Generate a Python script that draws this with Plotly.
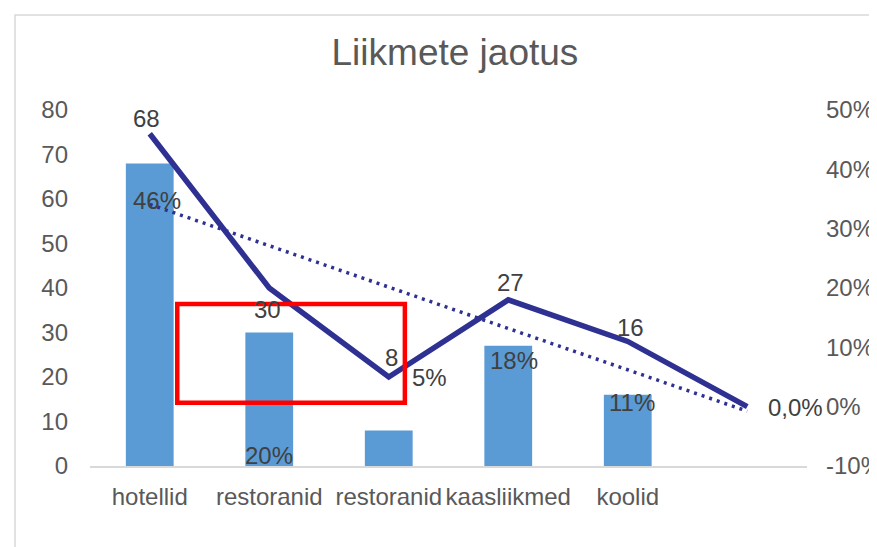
import numpy as np
import plotly.graph_objects as go

# data
categories = ["hotellid", "restoranid", "restoranid", "kaasliikmed", "koolid", ""]
counts = [68, 30, 8, 27, 16]
shares = [0.46, 0.20, 0.05, 0.18, 0.11, 0.0]
count_labels = ["68", "30", "8", "27", "16"]
share_labels = ["46%", "20%", "5%", "18%", "11%", "0,0%"]
pct_ticks = [-0.1, 0.0, 0.1, 0.2, 0.3, 0.4, 0.5]
pct_ticktext = ["-10%", "0%", "10%", "20%", "30%", "40%", "50%"]

# label offsets in px relative to the line points (moved by hand in the original)
count_offsets = [(-3, 15), (-2, -21), (3, 20), (2, 17), (3, 14)]
share_offsets = [(7, -67), (0, -167), (41, 0), (6, -61), (4, -61), (48, -1)]

pos = list(range(len(categories)))
bar_pos = pos[:len(counts)]

# linear trend of the share series, like Excel's trendline
slope, icpt = np.polyfit(pos, shares, 1)
trend = [icpt + slope * p for p in pos]

LINE = "#2E3192"
TXT = "#595959"
LBL = "#404040"
FONT = "Liberation Sans, Arial, sans-serif"
OFF = 8  # page body margin of the browser

fig = go.Figure()
fig.add_trace(go.Bar(x=bar_pos, y=counts, width=0.4, marker_color="#5B9BD5",
                     marker_line_width=0, showlegend=False))
fig.add_trace(go.Scatter(x=pos, y=shares, yaxis="y2", mode="lines",
                         line=dict(color=LINE, width=5.5), showlegend=False))
fig.add_trace(go.Scatter(x=pos, y=trend, yaxis="y2", mode="lines",
                         line=dict(color=LINE, width=3.5, dash="3px,5px"), showlegend=False))

annots = []
for i, t in enumerate(count_labels):
    dx, dy = count_offsets[i]
    annots.append(dict(x=pos[i], y=shares[i], xref="x", yref="y2", text=t, showarrow=False,
                       xshift=dx, yshift=dy, font=dict(size=24, color=LBL, family=FONT)))
for i, t in enumerate(share_labels):
    dx, dy = share_offsets[i]
    annots.append(dict(x=pos[i], y=shares[i], xref="x", yref="y2", text=t, showarrow=False,
                       xshift=dx, yshift=dy, font=dict(size=24, color=LBL, family=FONT)))

fig.update_layout(
    width=877, height=547,
    margin=dict(l=90 - OFF, r=70 + OFF, t=110 - OFF, b=81 + OFF, autoexpand=False),
    paper_bgcolor="white", plot_bgcolor="white",
    font=dict(family=FONT, size=24, color=TXT),
    title=dict(text="Liikmete jaotus", x=0.509, xref="paper", xanchor="center",
               y=1 - (52 - OFF) / 547, yref="container", yanchor="middle",
               font=dict(size=37, color=TXT, family=FONT)),
    xaxis=dict(range=[-0.5, 5.5], tickmode="array", tickvals=pos, ticktext=categories,
               showgrid=False, zeroline=False, showline=True, linecolor="#D9D9D9",
               linewidth=1.5, ticks="", ticklabelstandoff=8, automargin=False),
    yaxis=dict(range=[0, 80], dtick=10, showgrid=False, zeroline=False, ticks="",
               ticklabelstandoff=21, automargin=False),
    yaxis2=dict(range=[-0.1, 0.5], overlaying="y", side="right", tickmode="array",
                tickvals=pct_ticks, ticktext=pct_ticktext, showgrid=False, zeroline=False,
                ticks="", ticklabelstandoff=18, automargin=False),
    annotations=annots,
    bargap=0.6,
)

# highlight box and outer chart frame
fig.add_shape(type="rect", xref="x", yref="y", x0=0.23, x1=2.135, y0=14.2, y1=36.4,
              line=dict(color="#FF0000", width=4.5), fillcolor="rgba(0,0,0,0)")
fig.add_shape(type="rect", xref="paper", yref="paper",
              x0=(15 - 90) / 717, x1=(890 - 90) / 717,
              y0=(466 - 560) / 356, y1=(466 - 15) / 356,
              line=dict(color="#D9D9D9", width=1.5), fillcolor="rgba(0,0,0,0)", layer="below")

fig.write_html("out.html")
